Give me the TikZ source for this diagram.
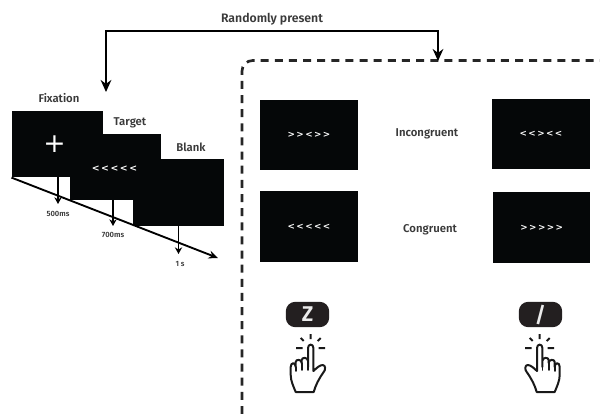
\documentclass[tikz,border=0pt]{standalone}
\usepackage{fontspec}
\setmainfont{Fira Sans}[BoldFont={Fira Sans SemiBold}]
\newfontfamily\chevfont{DejaVu Sans Bold}
\usetikzlibrary{arrows.meta}
\definecolor{scr}{HTML}{050708}
\definecolor{ink}{HTML}{3A3A3A}
\definecolor{keyc}{HTML}{231F20}
\newcommand{\chev}[1]{\chevfont\fontsize{6.6}{7}\selectfont #1}
\tikzset{
 x=0.75pt,y=-0.75pt,
 screenbox/.style={fill=scr,inner sep=0pt,text=white},
 wide/.style={minimum width=68.6pt,minimum height=50pt},
 stim/.style={minimum width=73pt,minimum height=53pt},
 title/.style={text=ink,font=\bfseries\fontsize{8.5}{9}\selectfont,inner sep=0pt},
 bigtitle/.style={text=ink,font=\bfseries\fontsize{9.2}{10}\selectfont,inner sep=0pt},
 dur/.style={text=ink,font=\bfseries\fontsize{5.7}{6}\selectfont,inner sep=0pt},
 bigarrow/.style={draw=black,line width=1.5pt,-{Stealth[length=9pt,width=8pt]}},
 tick/.style={draw=black,line width=1.4pt,-{Stealth[length=5pt,width=5.5pt]}},
 keybox/.style={fill=keyc,rounded corners=7pt,minimum width=32.5pt,minimum height=19pt,inner sep=0pt,text=white!92!black,font=\fontsize{16}{16}\selectfont\bfseries},
 hand/.pic={
  \draw[line width=1.5pt,line join=round,line cap=round,fill=white,draw=black!90]
   (-2.7,22) -- (-2.7,3)
   .. controls (-2.7,-1.5) and (2.7,-1.5) .. (2.7,3)
   -- (2.7,26)
   .. controls (6,23) and (9,20) .. (12,20)
   .. controls (15,20) and (15,25) .. (13,27)
   .. controls (8,34) and (5,40) .. (3,47)
   -- (-15,47)
   .. controls (-17,42) and (-20,36) .. (-20,30)
   -- (-20,22)
   .. controls (-20,17) and (-15,17) .. (-15,22)
   -- (-15,17)
   .. controls (-15,14) and (-9,14) .. (-9,18)
   -- (-9,15)
   .. controls (-9,12) and (-2.7,12) .. (-2.7,16);
  \draw[line width=1.3pt,line cap=round,draw=black!90] (-15,22) -- (-15,26) (-9,18) -- (-9,25) (-2.7,16) -- (-2.7,25);
  \draw[line width=1.5pt,draw=black!90] (0,-11) -- (0,-6) (-10,-7) -- (-7,-4) (10,-7) -- (7,-4)
    (-14.5,3) -- (-8,3) (14.5,3) -- (8,3);
 }
}
\begin{document}
\begin{tikzpicture}
\useasboundingbox (0,0) rectangle (600,414);
% sequence
\node[screenbox,wide] (fix) at (57.5,144) {};
\node[screenbox,wide] (tar) at (115.5,167) {};
\node[screenbox,wide] (bla) at (178.7,192.8) {};
\node[text=white,inner sep=0pt] (tarchev) at (114.5,169) {\chevfont\fontsize{7}{7}\selectfont <\,<\,<\,<\,<};
\node[text=white,inner sep=0pt] (plus) at (54.5,144.5) {\fontspec{DejaVu Sans}\fontsize{20}{20}\selectfont +};
\node[title] (lfix) at (59,98.5) {Fixation};
\node[title] (ltar) at (130,122.5) {Target};
\node[title] (lbla) at (191,147.5) {Blank};
% timeline
\coordinate (t0) at (fix.south west);
\coordinate (t1) at (218,258);
\coordinate (a0) at (58,177); \coordinate (a1) at (58,204);
\coordinate (b0) at (113,200); \coordinate (b1) at (113,226);
\coordinate (c0) at (178.5,226); \coordinate (c1) at (178.5,254);
\draw[draw=black,line width=1.4pt,-{Stealth[length=7pt,width=6pt]}] (t0) -- (t1);
\draw[tick] (a0) -- (a1);
\draw[tick] (b0) -- (b1);
\draw[tick] (c0) -- (c1);
\node[dur] (d1) at (58,213.5) {500ms};
\node[dur] (d2) at (113,234.5) {700ms};
\node[dur] (d3) at (180,264) {1 s};
% dashed frame
\coordinate (fa) at (242,414);
\coordinate (fb) at (242,60.5);
\coordinate (fc) at (600,60.5);
\draw[line width=2pt,draw=black!85,dash pattern=on 6pt off 4.6pt,rounded corners=8pt] (fa) -- (fb) -- (fc);
% top connector
\coordinate (p1) at (106,30.5);
\coordinate (p2) at (438,30.5);
\node[bigtitle] (rand) at (272,19.5) {Randomly present};
\coordinate (pl) at (106,92);
\coordinate (pr) at (438,61);
\draw[bigarrow] (p1) -- (pl);
\draw[bigarrow] (p2) -- (pr);
\draw[line width=1.5pt,line cap=rect] (p1) -- (p2);
% stimuli
\node[screenbox,stim] (s1) at (309,135) {\chev{>\,>\,<\,>\,>}};
\node[screenbox,stim] (s2) at (309,226.7) {\chev{<\,<\,<\,<\,<}};
\node[screenbox,stim] (s3) at (541,134) {\chev{<\,<\,>\,<\,<}};
\node[screenbox,stim] (s4) at (541.7,227.7) {\chev{>\,>\,>\,>\,>}};
\node[title] (inc) at (427,133.5) {Incongruent};
\node[title] (con) at (430,230) {Congruent};
% keys
\node[keybox] (kz) at (307.5,314.5) {Z};
\node[keybox] (ks) at (540.5,314.5) {/};
\pic at (310.7,345) {hand};
\pic[xscale=-1] at (539.7,345) {hand};
\end{tikzpicture}
\end{document}
